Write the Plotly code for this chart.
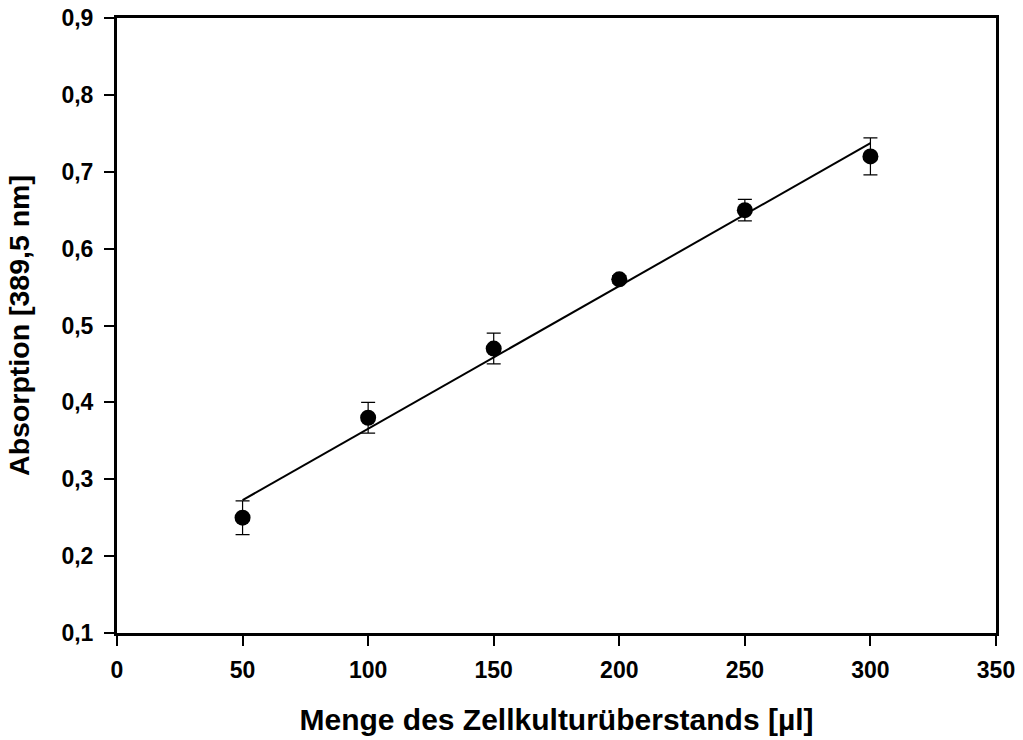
import numpy as np
import plotly.graph_objects as go

volume_ul = [50, 100, 150, 200, 250, 300]
absorption = [0.25, 0.38, 0.47, 0.56, 0.65, 0.72]
err = [0.022, 0.02, 0.02, 0.005, 0.014, 0.024]

x_ticks = [0, 50, 100, 150, 200, 250, 300, 350]
y_ticks = [0.1, 0.2, 0.3, 0.4, 0.5, 0.6, 0.7, 0.8, 0.9]

slope, intercept = np.polyfit(volume_ul, absorption, 1)
fit_x = [volume_ul[0], volume_ul[-1]]
fit_y = [slope * v + intercept for v in fit_x]

fig = go.Figure()
fig.add_trace(go.Scatter(x=fit_x, y=fit_y, mode="lines",
                         line=dict(color="black", width=2), showlegend=False))
fig.add_trace(go.Scatter(x=volume_ul, y=absorption, mode="markers",
                         marker=dict(color="black", size=16),
                         error_y=dict(type="data", array=err, visible=True,
                                      color="black", thickness=1.2, width=7),
                         showlegend=False))

font_family = "Liberation Sans, Arial, sans-serif"
fig.update_layout(
    width=1023, height=740,
    margin=dict(l=117, r=27, t=18, b=107),
    plot_bgcolor="white", paper_bgcolor="white",
    separators=",.",
    font=dict(family=font_family, color="black"),
    xaxis=dict(range=[0, 350], tickvals=x_ticks, showgrid=False, zeroline=False,
               showline=True, linewidth=3, linecolor="black", mirror=True,
               automargin=False,
               ticks="outside", ticklen=10, tickwidth=2, tickcolor="black",
               ticklabelstandoff=4,
               tickfont=dict(size=23, family=font_family, weight="bold"),
               title=dict(text="<b>Menge des Zellkulturüberstands [µl]</b>",
                          font=dict(size=30, family=font_family), standoff=28)),
    yaxis=dict(range=[0.1, 0.9], tickvals=y_ticks, tickformat=".1f",
               showgrid=False, zeroline=False,
               showline=True, linewidth=3, linecolor="black", mirror=True,
               automargin=False,
               ticks="outside", ticklen=10, tickwidth=2, tickcolor="black",
               ticklabelstandoff=6,
               tickfont=dict(size=23, family=font_family, weight="bold"),
               title=dict(text="<b>Absorption [389,5 nm]</b>",
                          font=dict(size=28.5, family=font_family), standoff=24)),
)
fig.write_html("out.html")
